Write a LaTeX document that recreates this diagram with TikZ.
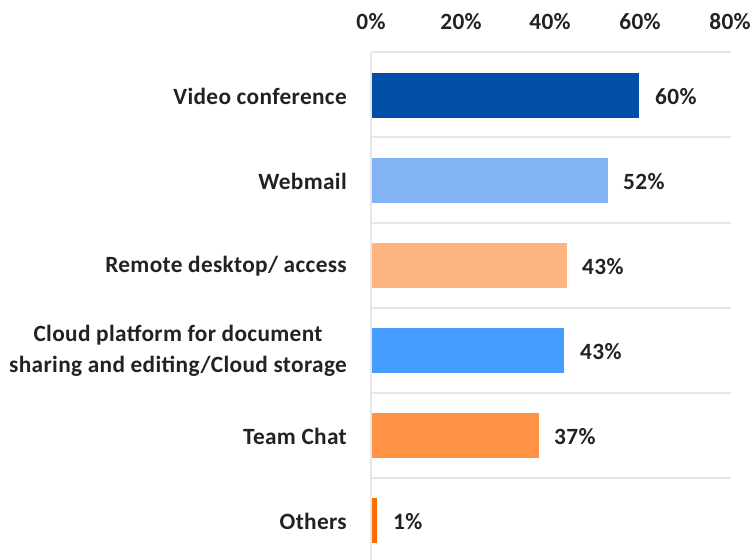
\documentclass[tikz,border=0pt]{standalone}
\usepackage{fontspec}
\setmainfont{Carlito}[LetterSpace=1.5]
\definecolor{txt}{HTML}{222222}
\definecolor{grid}{HTML}{E6E6E6}
\definecolor{cA}{HTML}{004EA8}
\definecolor{cB}{HTML}{82B4F5}
\definecolor{cC}{HTML}{FDB47F}
\definecolor{cD}{HTML}{459DFF}
\definecolor{cE}{HTML}{FF9244}
\definecolor{cF}{HTML}{FF6D00}
\begin{document}
\begin{tikzpicture}[x=1pt,y=-1pt,
  lab/.style={font=\fontsize{23.3}{31}\selectfont\bfseries, text=txt, inner sep=0pt},
  cat/.style={lab, anchor=east, align=center},
  val/.style={lab, anchor=west},
  tick/.style={lab, anchor=center},
  gridline/.style={draw=grid, line width=1.5pt},
  bar/.style={draw=none}]
\useasboundingbox (0,0) rectangle (756,560);
% grid
\foreach \y in {52,137,223,308,393,478}{
  \draw[gridline] (371,\y) -- (731,\y);
}
\draw[gridline] (371,52) -- (371,560);
% ticks
\node[tick] (t0) at (371,22) {0\%};
\node[tick] (t20) at (461,22) {20\%};
\node[tick] (t40) at (550,22) {40\%};
\node[tick] (t60) at (640,22) {60\%};
\node[tick] (t80) at (730,22) {80\%};
% bars
\fill[cA] (372,73) rectangle (639,118);
\fill[cB] (372,158) rectangle (608,203);
\fill[cC] (372,243) rectangle (567,288);
\fill[cD] (372,328) rectangle (564,373);
\fill[cE] (372,413) rectangle (539,458);
\fill[cF] (372,498) rectangle (377,543);
% values
\node[val] (v1) at (655,97) {60\%};
\node[val] (v2) at (623,182) {52\%};
\node[val] (v3) at (582,267) {43\%};
\node[val] (v4) at (580,352) {43\%};
\node[val] (v5) at (554,437) {37\%};
\node[val] (v6) at (393,522) {1\%};
% categories
\node[cat] (c1) at (347,96) {Video conference};
\node[cat] (c2) at (347,181) {Webmail};
\node[cat] (c3) at (347,266) {Remote desktop/ access};
\node[cat] (c4) at (347,351) {Cloud platform for document\\sharing and editing/Cloud storage};
\node[cat] (c5) at (347,436) {Team Chat};
\node[cat] (c6) at (347,521) {Others};
\end{tikzpicture}
\end{document}
